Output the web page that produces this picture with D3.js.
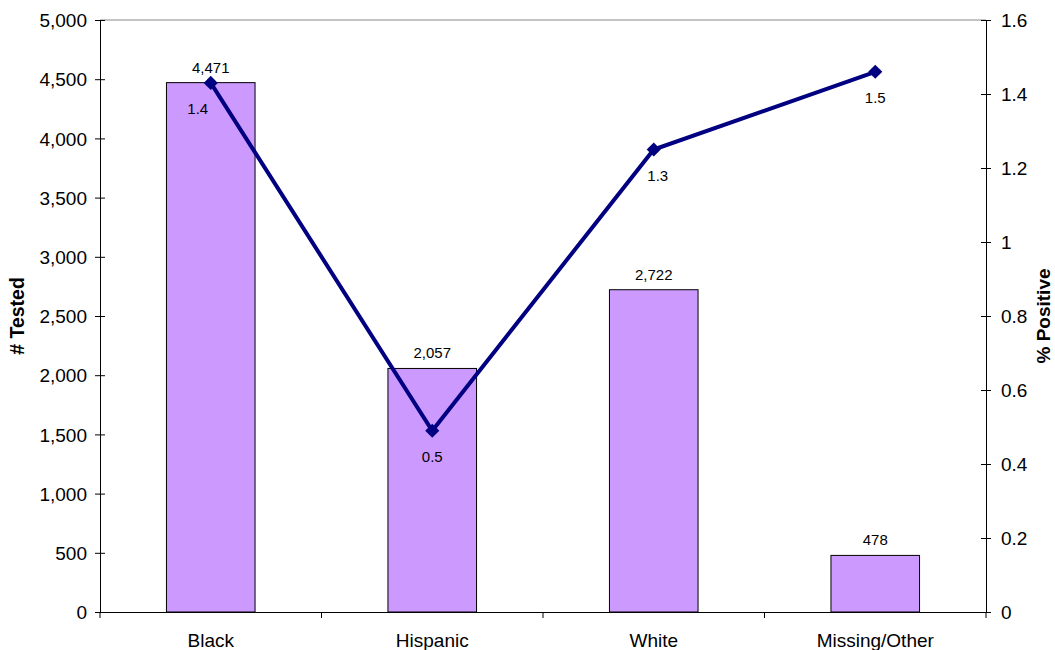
<!DOCTYPE html>
<html>
<head>
<meta charset="utf-8">
<script src="https://cdn.jsdelivr.net/npm/d3@7"></script>
<style>
  body { margin: 0; background: #fff; overflow: hidden; }
  svg { font-family: "Liberation Sans", Arial, sans-serif; display: block; }
</style>
</head>
<body>
<div id="chart"></div>
<script>
// Data
const categories = ["Black", "Hispanic", "White", "Missing/Other"];
const tested = [4471, 2057, 2722, 478];
const pctPositive = [1.43, 0.49, 1.25, 1.46];
const pctLabels = ["1.4", "0.5", "1.3", "1.5"];
const leftTicks = [0, 500, 1000, 1500, 2000, 2500, 3000, 3500, 4000, 4500, 5000];
const rightTicks = [0, 0.2, 0.4, 0.6, 0.8, 1, 1.2, 1.4, 1.6];

// label nudges (layout only, like Excel's placement)
const pctLabelDx = [-13, 0, 4, 0];

const margin = {top: 20, right: 69, bottom: 38, left: 100};
const width = 1055 - margin.left - margin.right;
const height = 650 - margin.top - margin.bottom;
const font = "Liberation Sans, Arial, sans-serif";

const svg = d3.select("#chart")
    .append("svg")
    .attr("width", 1055)
    .attr("height", 650)
    .append("g")
    .attr("transform", `translate(${margin.left},${margin.top})`);

const x = d3.scaleBand()
    .domain(categories)
    .range([0, width])
    .padding(0);

const yLeft = d3.scaleLinear().domain([0, 5000]).range([height, 0]);
const yRight = d3.scaleLinear().domain([0, 1.6]).range([height, 0]);

// top border
svg.append("line")
    .attr("x1", 0).attr("x2", width)
    .attr("y1", 0).attr("y2", 0)
    .attr("stroke", "#888").attr("stroke-width", 1);

// bars
const barW = x.bandwidth() * 0.4;
svg.selectAll(".bar")
    .data(categories)
    .enter()
    .append("rect")
    .attr("x", d => x(d) + (x.bandwidth() - barW) / 2)
    .attr("y", (d, i) => yLeft(tested[i]))
    .attr("width", barW)
    .attr("height", (d, i) => height - yLeft(tested[i]))
    .attr("fill", "#CC99FF")
    .attr("stroke", "#000")
    .attr("stroke-width", 1);

// bar labels
svg.selectAll(".barLabel")
    .data(categories)
    .enter()
    .append("text")
    .attr("x", d => x(d) + x.bandwidth() / 2)
    .attr("y", (d, i) => yLeft(tested[i]) - 10)
    .attr("text-anchor", "middle")
    .attr("font-size", 15)
    .text((d, i) => d3.format(",")(tested[i]));

// left axis
const leftAxis = svg.append("g")
    .call(d3.axisLeft(yLeft).tickValues(leftTicks).tickFormat(d3.format(",")).tickSize(5).tickSizeOuter(0));
leftAxis.selectAll(".tick line").attr("x2", 5).attr("x1", -5);
leftAxis.selectAll("text").attr("x", -13).attr("dy", "0.35em").attr("font-size", 19).attr("fill", "#000")
    .style("font-family", font);
leftAxis.select(".domain").attr("stroke", "#000");

// right axis
const rightAxis = svg.append("g")
    .attr("transform", `translate(${width},0)`)
    .call(d3.axisRight(yRight).tickValues(rightTicks).tickFormat(d => String(+d.toFixed(1))).tickSize(5).tickSizeOuter(0));
rightAxis.selectAll(".tick line").attr("x1", -5).attr("x2", 5);
rightAxis.selectAll("text").attr("x", 15).attr("dy", "0.35em").attr("font-size", 19).attr("fill", "#000")
    .style("font-family", font);
rightAxis.select(".domain").attr("stroke", "#000");

// bottom axis
const bottom = svg.append("g")
    .attr("transform", `translate(0,${height})`)
    .call(d3.axisBottom(x).tickSize(0).tickSizeOuter(0));
bottom.select(".domain").attr("stroke", "#000");
bottom.selectAll("text").attr("y", 35).attr("dy", 0).attr("font-size", 19).attr("fill", "#000")
    .style("font-family", font);
const bounds = categories.map(d => x(d)).concat([width]);
bottom.selectAll(".sep")
    .data(bounds)
    .enter()
    .append("line")
    .attr("x1", d => d).attr("x2", d => d)
    .attr("y1", 0).attr("y2", 6)
    .attr("stroke", "#000");

// line
const pts = categories.map((c, i) => ({c, v: pctPositive[i], label: pctLabels[i], dx: pctLabelDx[i]}));
const line = d3.line()
    .x(d => x(d.c) + x.bandwidth() / 2)
    .y(d => yRight(d.v));

svg.append("path")
    .datum(pts)
    .attr("fill", "none")
    .attr("stroke", "#000080")
    .attr("stroke-width", 4)
    .attr("d", line);

svg.selectAll(".marker")
    .data(pts)
    .enter()
    .append("path")
    .attr("d", d3.symbol().type(d3.symbolSquare).size(100))
    .attr("transform", d => `translate(${x(d.c) + x.bandwidth() / 2},${yRight(d.v)}) rotate(45)`)
    .attr("fill", "#000080");

svg.selectAll(".ptLabel")
    .data(pts)
    .enter()
    .append("text")
    .attr("x", d => x(d.c) + x.bandwidth() / 2 + d.dx)
    .attr("y", d => yRight(d.v) + 31)
    .attr("text-anchor", "middle")
    .attr("font-size", 15)
    .text(d => d.label);

// axis titles
svg.append("text")
    .attr("transform", "rotate(-90)")
    .attr("x", -height / 2)
    .attr("y", -margin.left + 24)
    .attr("text-anchor", "middle")
    .attr("font-size", 19.5)
    .attr("font-weight", "bold")
    .text("# Tested");

svg.append("text")
    .attr("transform", "rotate(-90)")
    .attr("x", -height / 2)
    .attr("y", width + 64)
    .attr("text-anchor", "middle")
    .attr("font-size", 19)
    .attr("font-weight", "bold")
    .text("% Positive");
</script>
</body>
</html>
